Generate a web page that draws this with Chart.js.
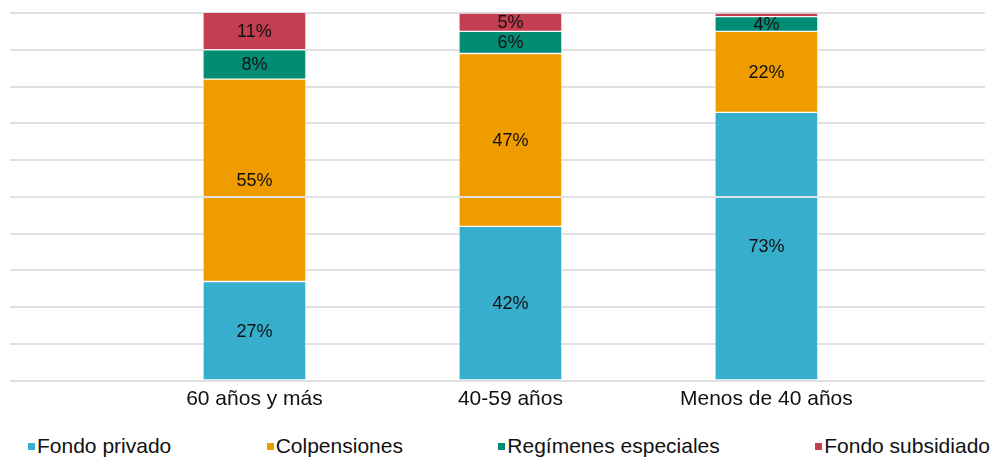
<!DOCTYPE html>
<html lang="es">
<head>
<meta charset="utf-8">
<title>Afiliación por edad</title>
<script src="https://cdn.jsdelivr.net/npm/chart.js@4/dist/chart.umd.min.js"></script>
<style>
  html, body { margin: 0; padding: 0; background: #fff; }
  body { width: 995px; height: 457px; position: relative; overflow: hidden;
         font-family: "Liberation Sans", Helvetica, Arial, sans-serif; }
  #wrap { position: absolute; left: 0; top: 0; width: 995px; height: 420px; }
  #legend { position: absolute; left: 28px; width: 962px; top: 434px;
            display: flex; justify-content: space-between; align-items: center;
            font-size: 21px; color: #111; line-height: 24px; }
  #legend .item { display: flex; align-items: center; white-space: nowrap; }
  #legend .box { width: 7px; height: 7px; margin-right: 2px; margin-top: 1px; }
</style>
</head>
<body>
<div id="wrap"><canvas id="chart"></canvas></div>
<div id="legend"></div>
<script>
"use strict";

const CATEGORIES = ["60 años y más", "40-59 años", "Menos de 40 años"];

// porcentajes por grupo de edad
const FONDO_PRIVADO = [27, 42, 73];
const COLPENSIONES = [55, 47, 22];
const REGIMENES = [8, 6, 4];
const SUBSIDIADO = [11, 5, 1];

const SERIES = [
  { name: "Fondo privado", values: FONDO_PRIVADO, color: "#37aecb" },
  { name: "Colpensiones", values: COLPENSIONES, color: "#ef9c00" },
  { name: "Regímenes especiales", values: REGIMENES, color: "#018c73" },
  { name: "Fondo subsidiado", values: SUBSIDIADO, color: "#c33e51" },
];

const FONT = "'Liberation Sans', Helvetica, Arial, sans-serif";

// etiquetas de porcentaje centradas en cada segmento
const segmentLabels = {
  id: "segmentLabels",
  afterDatasetsDraw(chart) {
    const ctx = chart.ctx;
    ctx.save();
    ctx.font = "18px " + FONT;
    ctx.fillStyle = "#111";
    ctx.textAlign = "center";
    ctx.textBaseline = "middle";
    chart.data.datasets.forEach((ds, i) => {
      chart.getDatasetMeta(i).data.forEach((bar, j) => {
        const v = ds.data[j].y;
        if (v <= 1) return;
        const top = Math.max(bar.y, chart.chartArea.top);
        ctx.fillText(v + "%", bar.x, (top + bar.base) / 2 + 1);
      });
    });
    ctx.restore();
  },
};

// línea clara del 50% por encima de las barras
const midLine = {
  id: "midLine",
  afterDatasetsDraw(chart) {
    const { ctx, chartArea, scales } = chart;
    const y = Math.round(scales.y.getPixelForValue(50));
    ctx.save();
    ctx.strokeStyle = "#e2e2e2";
    ctx.lineWidth = 2;
    ctx.beginPath();
    ctx.moveTo(chartArea.left, y);
    ctx.lineTo(chartArea.right, y);
    ctx.stroke();
    ctx.restore();
  },
};

const datasets = SERIES.map((s) => ({
  label: s.name,
  data: s.values.map((v, i) => ({ x: i, y: v })),
  backgroundColor: s.color,
  borderColor: "rgba(255,255,255,0.45)",
  borderWidth: 1,
  borderSkipped: false,
  barThickness: 103,
  clip: 0,
}));

new Chart(document.getElementById("chart"), {
  type: "bar",
  data: { datasets },
  plugins: [segmentLabels, midLine],
  options: {
    responsive: true,
    maintainAspectRatio: false,
    animation: false,
    layout: { padding: { left: 10, right: 10, top: 13, bottom: 10 } },
    plugins: { legend: { display: false }, tooltip: { enabled: false } },
    scales: {
      x: {
        type: "linear",
        stacked: true,
        offset: false,
        min: -0.955,
        max: 2.854,
        afterBuildTicks: (axis) => { axis.ticks = CATEGORIES.map((_, i) => ({ value: i })); },
        grid: { display: false },
        border: { display: false },
        ticks: {
          padding: -2,
          color: "#111",
          font: { family: FONT, size: 21 },
          maxRotation: 0,
          callback: (v) => CATEGORIES[v],
        },
      },
      y: {
        stacked: true,
        min: 0,
        max: 100,
        ticks: { display: false, stepSize: 10 },
        border: { display: false },
        grid: { color: "#e0e0e0", lineWidth: 2, drawTicks: false },
      },
    },
  },
});

// leyenda en HTML con los mismos colores de las series
const legend = document.getElementById("legend");
for (const s of SERIES) {
  const item = document.createElement("span");
  item.className = "item";
  item.innerHTML = `<span class="box" style="background:${s.color}"></span>${s.name}`;
  legend.appendChild(item);
}
</script>
</body>
</html>
